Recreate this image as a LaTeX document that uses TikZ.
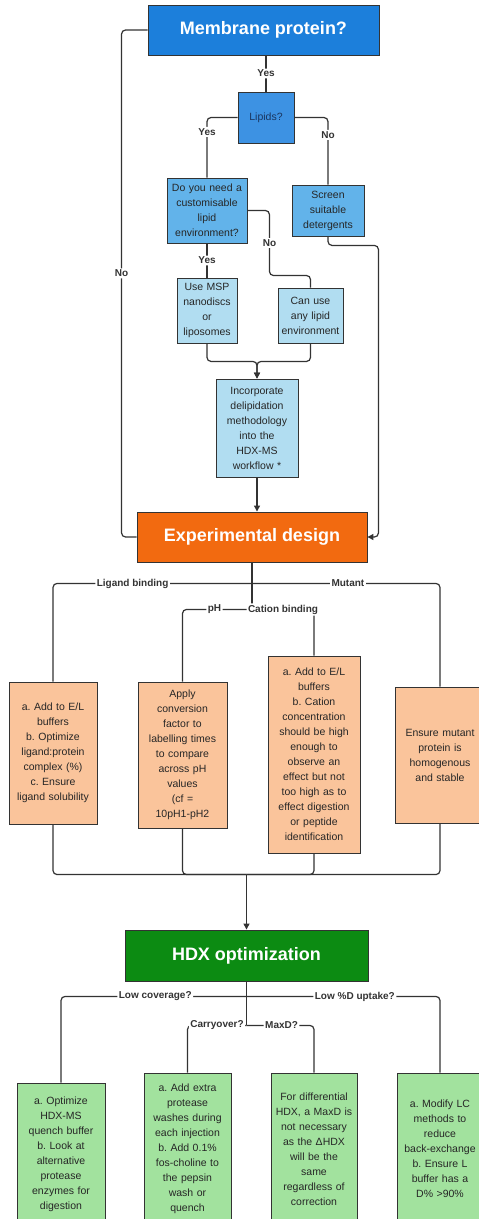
\documentclass[tikz,border=0pt]{standalone}
\usepackage{fontspec}
\setmainfont{Liberation Sans}
\usetikzlibrary{arrows.meta}
\definecolor{memblue}{HTML}{1C7FDB}
\definecolor{lipblue}{HTML}{3D92E3}
\definecolor{midblue}{HTML}{62B3EA}
\definecolor{paleblue}{HTML}{B1DDF1}
\definecolor{exporange}{HTML}{F26A10}
\definecolor{paleorange}{HTML}{FAC49B}
\definecolor{hdxgreen}{HTML}{0C8B12}
\definecolor{palegreen}{HTML}{A2E29E}
\definecolor{linegray}{HTML}{333333}
\definecolor{navytext}{HTML}{1A355E}
\frenchspacing
\begin{document}
\begin{tikzpicture}[x=1pt, y=-1pt,
    >={Triangle[length=6pt,width=6pt]},
    box/.style={draw=linegray, line width=0.9pt, align=center, inner sep=0pt,
      text=black!85, font=\fontsize{10.5}{15}\selectfont},
    head/.style={box, text=white, font=\bfseries\fontsize{18}{20}\selectfont},
    link/.style={draw=linegray, line width=1.2pt, rounded corners=4pt},
    lab/.style={fill=white, inner sep=1.5pt, text=linegray,
      font=\bfseries\fontsize{10}{12}\selectfont}]
  \useasboundingbox (0,0) rectangle (479,1219);
  \clip (0,0) rectangle (479,1219);
  \node[head, fill=memblue, minimum width=231pt, minimum height=50pt] (mem) at (263.5,30) {Membrane protein?};
  \node[box, fill=lipblue, text=navytext, font=\fontsize{10.5}{12}\selectfont, minimum width=56pt, minimum height=51pt] (lip) at (266,117.5) {Lipids?};
  \node[box, fill=midblue, text width=80pt, minimum height=65pt] (need) at (207,210.5) {Do you need a\\ customisable\\ lipid\\ environment?};
  \node[box, fill=midblue, text width=72pt, minimum height=51pt] (screen) at (328,210.5) {Screen\\ suitable\\ detergents};
  \node[box, fill=paleblue, text width=60pt, minimum height=65pt] (msp) at (207,310.5) {Use MSP\\ nanodiscs\\ or\\ liposomes};
  \node[box, fill=paleblue, text width=65pt, minimum height=55pt] (anyl) at (310.5,315.5) {Can use\\ any lipid\\ environment};
  \node[box, fill=paleblue, text width=82pt, minimum height=98pt] (incorp) at (257,428) {Incorporate\\ delipidation\\ methodology\\ into the\\ HDX-MS\\ workflow *};
  \node[head, fill=exporange, minimum width=230pt, minimum height=50pt] (exp) at (252,537) {Experimental design};
  \node[box, fill=paleorange, text width=88pt, minimum height=142pt] (lig) at (53,753) {a. Add to E/L\\ buffers\\ b. Optimize\\ ligand:protein\\ complex (\%)\\ c. Ensure\\ ligand solubility};
  \node[box, fill=paleorange, text width=89pt, minimum height=146pt] (ph) at (182.5,755) {Apply\\ conversion\\ factor to\\ labelling times\\ to compare\\ across pH\\ values\\ (cf =\\ 10pH1-pH2};
  \node[box, fill=paleorange, text width=92pt, minimum height=197pt] (cat) at (314,754.5) {a. Add to E/L\\ buffers\\ b. Cation\\ concentration\\ should be high\\ enough to\\ observe an\\ effect but not\\ too high as to\\ effect digestion\\ or peptide\\ identification};
  \node[box, fill=paleorange, text width=90pt, minimum height=136pt] (mut) at (440,755) {Ensure mutant\\ protein is\\ homogenous\\ and stable};
  \node[head, fill=hdxgreen, minimum width=243pt, minimum height=51pt] (hdx) at (246.5,955.5) {HDX optimization};
  \node[box, fill=palegreen, text width=88pt, minimum height=142pt] (cov) at (61,1154) {a. Optimize\\ HDX-MS\\ quench buffer\\ b. Look at\\ alternative\\ protease\\ enzymes for\\ digestion};
  \node[box, fill=palegreen, text width=87pt, minimum height=152pt] (carry) at (187.5,1149) {a. Add extra\\ protease\\ washes during\\ each injection\\ b. Add 0.1\%\\ fos-choline to\\ the pepsin\\ wash or\\ quench};
  \node[box, fill=palegreen, text width=86pt, minimum height=152pt] (maxd) at (314,1149) {For differential\\ HDX, a MaxD is\\ not necessary\\ as the ΔHDX\\ will be the\\ same\\ regardless of\\ correction};
  \node[box, fill=palegreen, text width=86pt, minimum height=152pt] (lcm) at (440,1149) {a. Modify LC\\ methods to\\ reduce\\ back-exchange\\ b. Ensure L\\ buffer has a\\ D\% >90\%};
  \draw[link] (lip |- mem.south) -- node[lab]{Yes} (lip.north);
  \draw[link] (lip.west) -| node[lab, pos=0.62]{Yes} (need.north);
  \draw[link] (lip.east) -| node[lab, pos=0.63]{No} (screen.north);
  \draw[link] (mem.west) -| node[lab, pos=0.74]{No} ([xshift=-15pt]exp.west) -- (exp.west);
  \draw[link, ->] (screen.south) -- ++(0,9) -| ([xshift=11pt]exp.east) -- (exp.east);
  \draw[link] (need.south) -- node[lab]{Yes} (msp.north);
  \draw[link] (need.east) -- ++(22,0) -- node[lab]{No} ++(0,65) -| (anyl.north);
  \draw[link, ->] (msp.south) -- ++(0,18) -| (incorp.north);
  \draw[link, ->] (anyl.south) -- ++(0,18) -| (incorp.north);
  \draw[link, ->] (incorp.south) -- (incorp.south |- exp.north);
  \coordinate (fa) at ([yshift=-21pt]exp.south);
  \coordinate (fb) at ([yshift=-47pt]exp.south);
  \draw[link] (exp.south) -- (fb);
  \draw[link] (fa) -| node[lab, pos=0.3]{Ligand binding} (lig.north);
  \draw[link] (fa) -| node[lab, pos=0.255]{Mutant} (mut.north);
  \draw[link] (fb) -| node[lab, pos=0.27]{pH} (ph.north);
  \draw[link] (fb) -| node[lab, pos=0.25]{Cation binding} (cat.north);
  \coordinate (jn) at ([yshift=55pt]hdx.north);
  \draw[link] (lig.south) |- (jn);
  \draw[link] (ph.south) |- (jn);
  \draw[link] (cat.south) |- (jn);
  \draw[link] (mut.south) |- (jn);
  \draw[link, ->] (jn) -- (hdx.north);
  \coordinate (fc) at ([yshift=-15pt]hdx.south);
  \coordinate (fd) at ([yshift=-44pt]hdx.south);
  \draw[link] (hdx.south) -- (fd);
  \draw[link] (fc) -| node[lab, pos=0.246]{Low coverage?} (cov.north);
  \draw[link] (fc) -| node[lab, pos=0.28]{Low \%D uptake?} (lcm.north);
  \draw[link] (fd) -| node[lab, pos=0.25]{Carryover?} (carry.north);
  \draw[link] (fd) -| node[lab, pos=0.26]{MaxD?} (maxd.north);
\end{tikzpicture}
\end{document}
